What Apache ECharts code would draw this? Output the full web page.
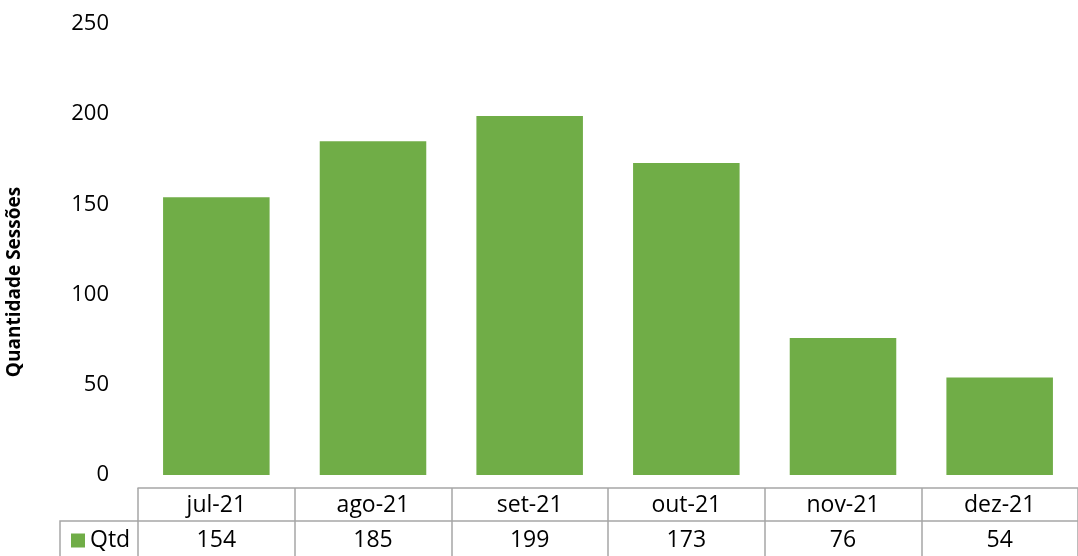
<!DOCTYPE html>
<html>
<head>
<meta charset="utf-8">
<script src="https://cdn.jsdelivr.net/npm/echarts@6/dist/echarts.min.js"></script>
<style>
  html, body { margin: 0; padding: 0; background: #fff; }
  #chart { width: 1078px; height: 556px; }
</style>
</head>
<body>
<div id="chart"></div>
<script>
// dados do gráfico
const meses = ['jul-21', 'ago-21', 'set-21', 'out-21', 'nov-21', 'dez-21'];
const qtd = [154, 185, 199, 173, 76, 54];
const serieNome = 'Qtd';
const tituloY = 'Quantidade Sessões';

const verde = '#70AD47';
const linhaTabela = '#A6A6A6';
const fonte = '"Open Sans", sans-serif';

const chart = echarts.init(document.getElementById('chart'));

chart.setOption({
  animation: false,
  grid: { left: 138, top: 24, width: 958, height: 451, containLabel: false },
  legend: {
    data: [serieNome],
    left: 66, top: 524,
    icon: 'rect', itemWidth: 14, itemHeight: 14, itemGap: 0,
    textStyle: { fontFamily: fonte, fontSize: 23, color: '#000', padding: [0, 0, 0, 0] }
  },
  xAxis: [
    {
      // linha superior da tabela + divisões verticais + textos
      type: 'category',
      data: meses,
      offset: 13,
      axisLine: { show: true, onZero: false, lineStyle: { color: linhaTabela, width: 1.5 } },
      axisTick: { show: true, length: 72, lineStyle: { color: linhaTabela, width: 1.5 } },
      axisLabel: {
        margin: 1,
        interval: 0,
        formatter: (v, i) => '{c|' + v + '}\n{v|' + qtd[i] + '}',
        rich: {
          c: { fontFamily: fonte, fontSize: 23, color: '#000', lineHeight: 33, align: 'center' },
          v: { fontFamily: fonte, fontSize: 23, color: '#000', lineHeight: 37, align: 'center' }
        }
      }
    },
    {
      // linha do meio da tabela
      type: 'category',
      data: meses,
      position: 'bottom',
      offset: 46,
      axisLine: { show: true, onZero: false, lineStyle: { color: linhaTabela, width: 1.5 } },
      axisTick: { show: false },
      axisLabel: { show: false }
    }
  ],
  yAxis: {
    type: 'value',
    min: 0, max: 250, interval: 50,
    axisLine: { show: false },
    axisTick: { show: false },
    splitLine: { show: false },
    axisLabel: { margin: 29, fontFamily: fonte, fontSize: 22, color: '#000' }
  },
  series: [
    {
      name: serieNome,
      type: 'bar',
      data: qtd,
      barCategoryGap: '32%',
      itemStyle: { color: verde }
    }
  ],
  graphic: [
    {
      type: 'text',
      x: 15, y: 282,
      rotation: Math.PI / 2,
      style: {
        text: tituloY,
        fontFamily: fonte, fontSize: 19, fontWeight: 'bold', fill: '#000',
        align: 'center', verticalAlign: 'middle'
      }
    },
    {
      // bordas da célula da legenda
      type: 'polyline',
      shape: { points: [[60, 560], [60, 521], [138, 521]] },
      style: { stroke: linhaTabela, lineWidth: 1.5, fill: null }
    }
  ]
});
</script>
</body>
</html>
